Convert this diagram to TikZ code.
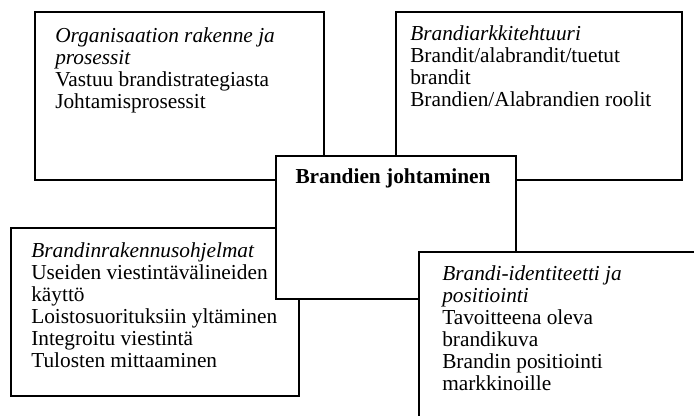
\documentclass[tikz,border=0pt]{standalone}
\usepackage{fontspec}
\setmainfont{Liberation Serif}
\begin{document}
\begin{tikzpicture}[x=0.75pt,y=-0.75pt,
    laatikko/.style={draw,line width=1.4pt,fill=white,anchor=north west,inner sep=0pt},
    teksti/.style={anchor=north west,align=left,inner sep=0pt,font=\fontsize{16}{16.5}\selectfont}]
    \path[use as bounding box,clip] (0,0) rectangle (694,416);
    % ylemmat laatikot
    \node[laatikko,minimum width=216.75pt,minimum height=126pt] (org) at (34,11) {};
    \node[teksti] (orgtxt) at (55,27) {\textit{Organisaation rakenne ja}\\\textit{prosessit}\\Vastuu brandistrategiasta\\Johtamisprosessit};
    \node[laatikko,minimum width=214.5pt,minimum height=126pt] (ark) at (395,11) {};
    \node[teksti] (arktxt) at (410,25.4) {\textit{Brandiarkkitehtuuri}\\Brandit/alabrandit/tuetut\\brandit\\Brandien/Alabrandien roolit};
    % alemmat laatikot
    \node[laatikko,minimum width=216pt,minimum height=126pt] (ohj) at (10,227) {};
    \node[teksti] (ohjtxt) at (31,242.4) {\textit{Brandinrakennusohjelmat}\\Useiden viestintävälineiden\\käyttö\\Loistosuorituksiin yltäminen\\Integroitu viestintä\\Tulosten mittaaminen};
    \node[laatikko,minimum width=180pt,minimum height=107.25pt] (joht) at (275,155) {};
    \node[teksti,anchor=base] (johttxt) at (393,184) {\textbf{Brandien johtaminen}};
    \node[laatikko,minimum width=226.5pt,minimum height=141.75pt] (pos) at (418,251) {};
    \node[teksti] (postxt) at (442,265) {\textit{Brandi-identiteetti ja}\\\textit{positiointi}\\Tavoitteena oleva\\brandikuva\\Brandin positiointi\\markkinoille};
\end{tikzpicture}
\end{document}
